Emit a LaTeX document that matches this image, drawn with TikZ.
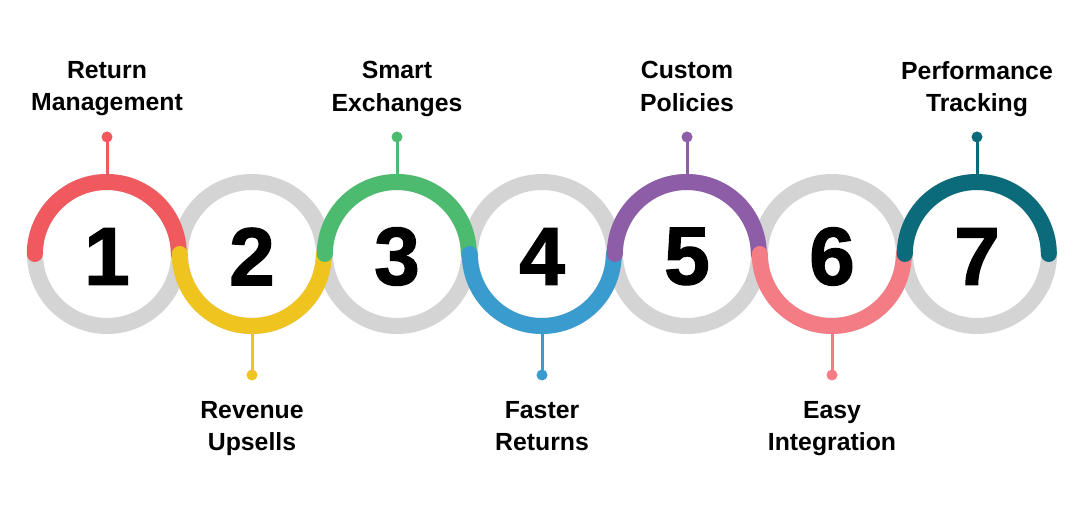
\documentclass[tikz,border=0pt]{standalone}
\usepackage{fontspec}
\setmainfont{Liberation Sans}
\newfontfamily\numfont[FakeBold=1.6]{Liberation Sans Bold}
\definecolor{cA}{HTML}{F05A5F}
\definecolor{cB}{HTML}{EFC41E}
\definecolor{cC}{HTML}{4DBB6F}
\definecolor{cD}{HTML}{3A9BCE}
\definecolor{cE}{HTML}{8E5DA8}
\definecolor{cF}{HTML}{F47C84}
\definecolor{cG}{HTML}{0B6B7A}
\definecolor{ringgray}{HTML}{D4D4D4}
\begin{document}
\begin{tikzpicture}[x=1pt,y=1pt,
  ringnode/.style={circle,draw=none,minimum size=144pt,inner sep=0pt},
  ringbase/.style={draw=ringgray,line width=16pt},
  arcline/.style={line width=16pt,line cap=round},
  stemline/.style={line width=3pt},
  dotnode/.style={circle,inner sep=0pt,minimum size=11pt},
  numlbl/.style={font=\fontsize{82}{82}\selectfont\numfont,text=black,inner sep=0pt},
  lbl/.style={font=\fontsize{24.8}{32.5}\selectfont\bfseries,align=center,inner sep=0pt,anchor=north,text=black}]
\useasboundingbox[fill=white] (0,0) rectangle (1080,513);
% ring placeholders
\foreach \i/\x in {1/107,2/252,3/397,4/542,5/687,6/832,7/977}{
  \node[ringnode] (r\i) at (\x,259) {};
}
% stems and dots
\foreach \i/\x/\c in {1/107/cA,3/397/cC,5/687/cE,7/977/cG}{
  \node[dotnode,fill=\c] (d\i) at (\x,376) {};
  \draw[stemline,draw=\c] (d\i.center) -- (r\i.north);
}
\foreach \i/\x/\c in {2/252/cB,4/542/cD,6/832/cF}{
  \node[dotnode,fill=\c] (d\i) at (\x,138) {};
  \draw[stemline,draw=\c] (d\i.center) -- (r\i.south);
}
% gray rings
\foreach \i in {1,...,7}{
  \draw[ringbase] (r\i.center) circle[radius=72pt];
}
% colored halves
\draw[arcline,draw=cA] (r1.west) arc[start angle=180,end angle=0,radius=72pt];
\draw[arcline,draw=cB] (r2.west) arc[start angle=180,end angle=360,radius=72pt];
\draw[arcline,draw=cC] (r3.west) arc[start angle=180,end angle=0,radius=72pt];
\draw[arcline,draw=cD] (r4.west) arc[start angle=180,end angle=360,radius=72pt];
\draw[arcline,draw=cE] (r5.west) arc[start angle=180,end angle=0,radius=72pt];
\draw[arcline,draw=cF] (r6.west) arc[start angle=180,end angle=360,radius=72pt];
\draw[arcline,draw=cG] (r7.west) arc[start angle=180,end angle=0,radius=72pt];
% numbers
\foreach \i/\x in {1/107,2/252,3/397,4/542,5/687,6/832,7/977}{
  \node[numlbl] (n\i) at (\x,256.5) {\i};
}
% labels
\node[lbl] (t1) at (107,452) {Return\\Management};
\node[lbl] (t3) at (397,452) {Smart\\Exchanges};
\node[lbl] (t5) at (687,452) {Custom\\Policies};
\node[lbl] (t7) at (977,452) {Performance\\Tracking};
\node[lbl] (t2) at (252,112) {Revenue\\Upsells};
\node[lbl] (t4) at (542,112) {Faster\\Returns};
\node[lbl] (t6) at (832,112) {Easy\\Integration};
\end{tikzpicture}
\end{document}
